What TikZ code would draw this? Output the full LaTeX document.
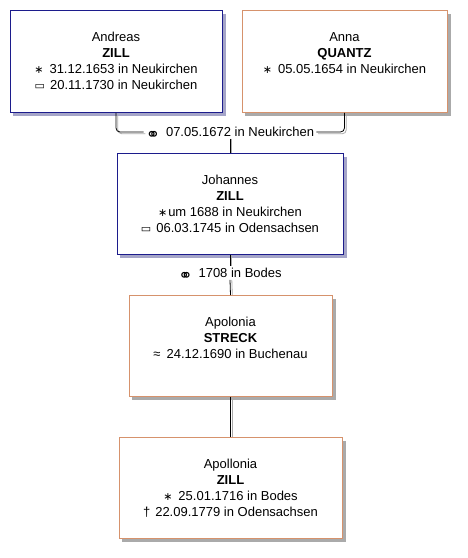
\documentclass[tikz,border=0pt]{standalone}
\usepackage{fontspec}
\setmainfont{Liberation Sans}
\newfontfamily\symfont{DejaVu Sans}
\usetikzlibrary{backgrounds}
\definecolor{manblue}{RGB}{28,28,140}
\definecolor{womanorange}{RGB}{214,146,108}
\definecolor{blueshadow}{RGB}{165,165,200}
\definecolor{greyshadow}{RGB}{170,170,170}
\newcommand\sym[2][12]{\smash{\symfont\fontsize{#1}{#1}\selectfont #2}}
\newcommand\wedsym{\smash{\raisebox{-3.5pt}{\sym[17]{⚭}}}}

\begin{document}
\begin{tikzpicture}[x=1pt,y=-1pt,
  person/.style={draw, fill=white, line width=0.9pt, anchor=north, inner xsep=0pt, inner ysep=22pt,
    font=\fontsize{13}{16}\selectfont},
  manbox/.style={person, draw=manblue},
  womanbox/.style={person, draw=womanorange},
  wedding/.style={inner xsep=2pt, inner ysep=2pt, font=\fontsize{13}{16}\selectfont},
  conn/.style={line width=0.8pt}]
\useasboundingbox (0,0) rectangle (467,558);

% parents
\node[manbox] (andreas) at (116,10) {\parbox[t][58pt][t]{212pt}{\centering
  Andreas\\ \textbf{ZILL}\\ \sym[11]{∗}\hspace{6pt}31.12.1653 in Neukirchen\\ \sym[11]{▭}\hspace{5pt}20.11.1730 in Neukirchen}};
\node[womanbox] (anna) at (344.5,10) {\parbox[t][58pt][t]{205pt}{\centering
  Anna\\ \textbf{QUANTZ}\\ \sym[11]{∗}\hspace{6pt}05.05.1654 in Neukirchen}};
\node[wedding] (wed1) at (230,132) {\wedsym\hspace{6pt}07.05.1672 in Neukirchen};

% son and his wife
\node[manbox] (johannes) at (230,153) {\parbox[t][57pt][t]{226pt}{\centering
  Johannes\\ \textbf{ZILL}\\ \sym[11]{∗}\hspace{1pt}um 1688 in Neukirchen\\ \sym[11]{▭}\hspace{5pt}06.03.1745 in Odensachsen}};
\node[wedding] (wed2) at (230,273) {\wedsym\hspace{6pt}1708 in Bodes};
\node[womanbox] (streck) at (230.5,295) {\parbox[t][57pt][t]{203pt}{\centering
  Apolonia\\ \textbf{STRECK}\\ ≈\hspace{6pt}24.12.1690 in Buchenau}};

% daughter
\node[womanbox] (apollonia) at (230.5,437) {\parbox[t][57pt][t]{223pt}{\centering
  Apollonia\\ \textbf{ZILL}\\ \sym[11]{∗}\hspace{6pt}25.01.1716 in Bodes\\ †\hspace{5pt}22.09.1779 in Odensachsen}};

% shadows
\begin{scope}[on background layer]
\foreach \n/\c in {andreas/blueshadow, johannes/blueshadow, anna/greyshadow, streck/greyshadow, apollonia/greyshadow}
  \fill[\c] ([xshift=3.5pt,yshift=-3.5pt]\n.south west) rectangle ([xshift=3.5pt,yshift=-3.5pt]\n.north east);
\end{scope}

% lines, grey copy first
\foreach \d/\c in {1.8pt/greyshadow, 0pt/black} {
  \draw[conn, \c, rounded corners=4pt] ([xshift=\d,yshift=-\d]andreas.south) |- ([xshift=\d,yshift=-\d]wed1.west);
  \draw[conn, \c, rounded corners=4pt] ([xshift=\d,yshift=-\d]anna.south) |- ([xshift=\d,yshift=-\d]wed1.east);
  \draw[conn, \c] ([xshift=\d]wed1.south) -- ([xshift=\d]johannes.north);
  \draw[conn, \c] ([xshift=\d]johannes.south) -- ([xshift=\d]wed2.north);
  \draw[conn, \c] ([xshift=\d]wed2.south) -- ([xshift=\d]streck.north);
  \draw[conn, \c] ([xshift=\d]streck.south) -- ([xshift=\d]apollonia.north);
}
\end{tikzpicture}
\end{document}
